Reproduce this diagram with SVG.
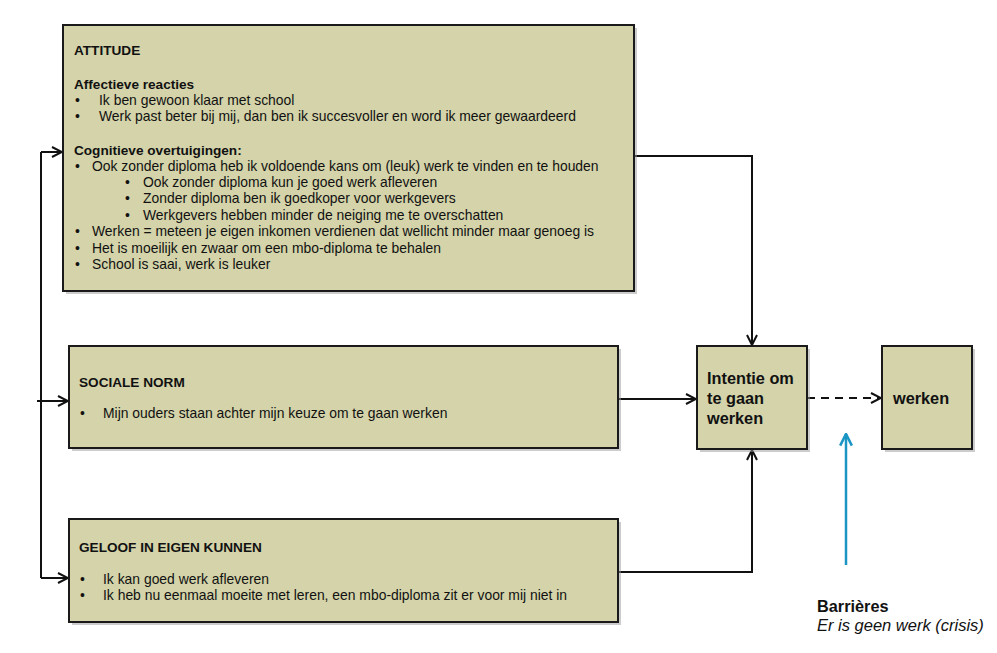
<svg xmlns="http://www.w3.org/2000/svg" width="997" height="653" viewBox="0 0 997 653">
<style>
.box{fill:#d4d3a9;stroke:#1a1a1a;stroke-width:2}
.sh{fill:#9a9a9a;opacity:0.5}
.t{font-family:"Liberation Sans",Arial,sans-serif;font-size:13.9px;fill:#111}
.b{font-weight:bold;font-size:13.6px}
.big{font-family:"Liberation Sans",Arial,sans-serif;font-size:16.3px;font-weight:bold;fill:#111}
.c{fill:none;stroke:#111;stroke-width:2}
</style>
<defs>
<marker id="ah" viewBox="0 0 12 12" refX="11" refY="6" markerWidth="12" markerHeight="12" markerUnits="userSpaceOnUse" orient="auto">
<path d="M1,1 L11,6 L1,11" fill="none" stroke="#111" stroke-width="2"/>
</marker>
<marker id="ahb" viewBox="0 0 12 12" refX="11" refY="6" markerWidth="14" markerHeight="14" markerUnits="userSpaceOnUse" orient="auto">
<path d="M1,1 L11,6 L1,11" fill="none" stroke="#1a95c4" stroke-width="2.2"/>
</marker>
</defs>
<g id="connectors">
<path class="c" d="M41,152 V578"/>
<path class="c" d="M41,152 H62" marker-end="url(#ah)"/>
<path class="c" d="M37,401 H68" marker-end="url(#ah)"/>
<path class="c" d="M41,578 H68" marker-end="url(#ah)"/>
<path class="c" d="M634,156 H752 V345" marker-end="url(#ah)"/>
<path class="c" d="M618,399 H696" marker-end="url(#ah)"/>
<path class="c" d="M618,572 H752 V450" marker-end="url(#ah)"/>
<path class="c" d="M807,398 H881" stroke-dasharray="8,6" marker-end="url(#ah)"/>
<path d="M846,565 V434" fill="none" stroke="#1a95c4" stroke-width="2.5" marker-end="url(#ahb)"/>
</g>
<g id="attitude">
<rect class="sh" x="66" y="28" width="571" height="266"/>
<rect class="box" x="63" y="25" width="571" height="266"/>
<text class="t b" x="74" y="55">ATTITUDE</text>
<text class="t b" x="74" y="89">Affectieve reacties</text>
<text class="t" x="75" y="105">•</text><text class="t" x="99" y="105">Ik ben gewoon klaar met school</text>
<text class="t" x="75" y="121">•</text><text class="t" x="99" y="121">Werk past beter bij mij, dan ben ik succesvoller en word ik meer gewaardeerd</text>
<text class="t b" x="74" y="155">Cognitieve overtuigingen:</text>
<text class="t" x="75" y="171">•</text><text class="t" x="92" y="171">Ook zonder diploma heb ik voldoende kans om (leuk) werk te vinden en te houden</text>
<text class="t" x="125" y="187">•</text><text class="t" x="143" y="187">Ook zonder diploma kun je goed werk afleveren</text>
<text class="t" x="125" y="203">•</text><text class="t" x="143" y="203">Zonder diploma ben ik goedkoper voor werkgevers</text>
<text class="t" x="125" y="220">•</text><text class="t" x="143" y="220">Werkgevers hebben minder de neiging me te overschatten</text>
<text class="t" x="75" y="236">•</text><text class="t" x="92" y="236">Werken = meteen je eigen inkomen verdienen dat wellicht minder maar genoeg is</text>
<text class="t" x="75" y="253">•</text><text class="t" x="92" y="253">Het is moeilijk en zwaar om een mbo-diploma te behalen</text>
<text class="t" x="75" y="269">•</text><text class="t" x="92" y="269">School is saai, werk is leuker</text>
</g>
<g id="sociale-norm">
<rect class="sh" x="72" y="349" width="549" height="102"/>
<rect class="box" x="69" y="346" width="549" height="102"/>
<text class="t b" x="79" y="387">SOCIALE NORM</text>
<text class="t" x="80" y="418">•</text><text class="t" x="103" y="418">Mijn ouders staan achter mijn keuze om te gaan werken</text>
</g>
<g id="geloof">
<rect class="sh" x="72" y="522" width="549" height="103"/>
<rect class="box" x="69" y="519" width="549" height="103"/>
<text class="t b" x="79" y="552">GELOOF IN EIGEN KUNNEN</text>
<text class="t" x="80" y="584">•</text><text class="t" x="103" y="584">Ik kan goed werk afleveren</text>
<text class="t" x="80" y="600">•</text><text class="t" x="103" y="600">Ik heb nu eenmaal moeite met leren, een mbo-diploma zit er voor mij niet in</text>
</g>
<g id="intentie">
<rect class="sh" x="700" y="349" width="110" height="103"/>
<rect class="box" x="697" y="346" width="110" height="103"/>
<text class="big" x="707" y="384">Intentie om</text>
<text class="big" x="707" y="404">te gaan</text>
<text class="big" x="707" y="424">werken</text>
</g>
<g id="werken">
<rect class="sh" x="885" y="349" width="90" height="103"/>
<rect class="box" x="882" y="346" width="90" height="103"/>
<text class="big" x="893" y="404">werken</text>
</g>
<g id="barrieres">
<text class="big" x="817" y="612">Barrières</text>
<text x="817" y="631" font-family="Liberation Sans,Arial,sans-serif" font-size="16.5" font-style="italic" fill="#111">Er is geen werk (crisis)</text>
</g>
</svg>
